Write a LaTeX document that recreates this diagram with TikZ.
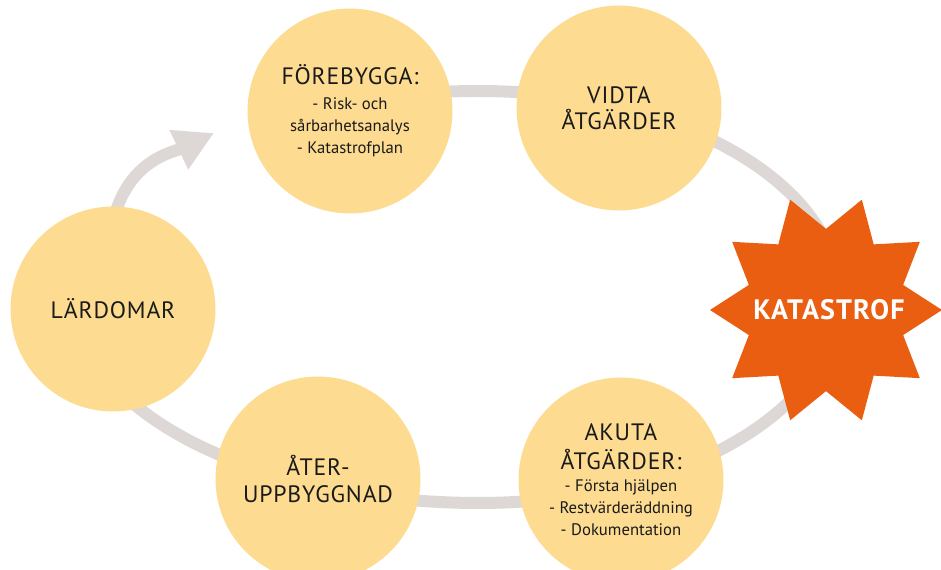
\documentclass[tikz,border=0pt]{standalone}
\usepackage{fontspec}
\setmainfont{PT Sans}
\usetikzlibrary{shapes.geometric,arrows.meta,backgrounds}
\definecolor{ringgray}{RGB}{221,216,213}
\definecolor{phasefill}{RGB}{253,220,145}
\definecolor{burstorange}{RGB}{233,94,17}
\definecolor{inktext}{RGB}{26,26,26}
\newcommand{\bigtext}{\fontsize{13.5}{15.5}\selectfont\addfontfeature{LetterSpace=3.5}}

\begin{document}
\begin{tikzpicture}[x=0.02cm, y=-0.02cm,
        ring/.style={line width=0.24cm, draw=ringgray},
        phase/.style={circle, fill=phasefill, minimum size=4.1cm, inner sep=0pt,
            align=center, text=inktext, font=\fontsize{9.5}{12.5}\selectfont},
        burst/.style={star, star points=10, star point ratio=1.43, shape border rotate=18,
            fill=burstorange, minimum size=4.64cm, inner sep=0pt}]
    \useasboundingbox (0, 0) rectangle (941, 570);

    % the five phases
    \node[phase] (fore) at (350, 111) {\bigtext FÖREBYGGA:\\[1.7pt] - Risk- och\\ sårbarhetsanalys\\ - Katastrofplan};
    \node[phase] (vidta) at (619, 108) {\bigtext VIDTA\\[2.2pt] \bigtext ÅTGÄRDER};
    \node[phase] (akuta) at (621, 480) {\bigtext AKUTA\\[3.9pt] \bigtext ÅTGÄRDER:\\ - Första hjälpen\\ - Restvärderäddning\\ - Dokumentation};
    \node[phase] (ater) at (318, 479) {\bigtext ÅTER-\\[3.4pt] \bigtext UPPBYGGNAD};
    \node[phase] (lard) at (113, 309) {\bigtext LÄRDOMAR};

    % the disaster
    \node[burst] (kat) at (826, 310) {};
    \node[text=white, font=\bfseries\fontsize{16}{18}\selectfont\addfontfeature{LetterSpace=4}] (katlabel) at (829, 310) {KATASTROF};

    \coordinate (tip) at (214, 133);
    \begin{scope}[on background layer]
        \draw[ring] (479, 297) ++(260:404 and 206)
            arc[start angle=260, end angle=270, x radius=404, y radius=206]
            arc[start angle=-90, end angle=90, x radius=360, y radius=206]
            arc[start angle=90, end angle=200, x radius=404, y radius=206];
        \draw[ring, -{Triangle[width=0.82cm, length=0.78cm]}] (lard.center) .. controls (90, 165) and (172, 153) .. (tip);
    \end{scope}
\end{tikzpicture}
\end{document}
